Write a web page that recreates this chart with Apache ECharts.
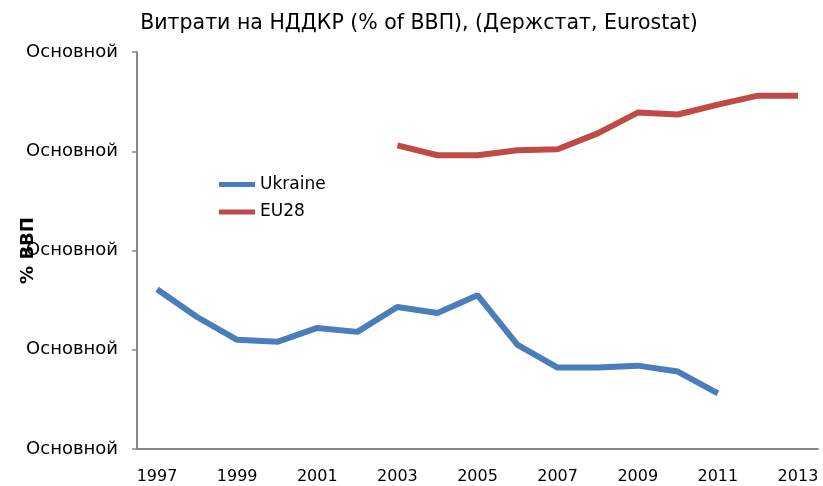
<!DOCTYPE html>
<html>
<head>
<meta charset="utf-8">
<script src="https://cdn.jsdelivr.net/npm/echarts@6/dist/echarts.min.js"></script>
<style>
  html, body { margin: 0; padding: 0; background: #fff; }
  #chart { width: 823px; height: 486px; }
</style>
</head>
<body>
<div id="chart"></div>
<script>
// years on the x axis
const years = ["1997", "1998", "1999", "2000", "2001", "2002", "2003", "2004", "2005",
  "2006", "2007", "2008", "2009", "2010", "2011", "2012", "2013"];
// values (axis units, labels are broken in the source)
const ukraine = [1.61, 1.33, 1.10, 1.08, 1.22, 1.18, 1.43, 1.37, 1.55, 1.05, 0.82, 0.82, 0.84, 0.78, 0.56, null, null];
const eu28 = [null, null, null, null, null, null, 3.06, 2.96, 2.96, 3.01, 3.02, 3.18, 3.39, 3.37, 3.47, 3.56, 3.56];
const yLabel = "Основной";

const chart = echarts.init(document.getElementById("chart"));

const option = {
  animation: false,
  title: {
    text: "Витрати на НДДКР (% of ВВП), (Держстат, Eurostat)",
    left: 414,
    textAlign: "center",
    top: 8,
    textStyle: { fontFamily: "DejaVu Sans", fontSize: 20.5, fontWeight: "normal", color: "#000" }
  },
  legend: {
    orient: "vertical",
    left: 214,
    top: 171,
    itemWidth: 36,
    itemHeight: 5,
    itemGap: 10.5,
    icon: "rect",
    textStyle: { fontFamily: "DejaVu Sans", fontSize: 17, color: "#000" },
    data: ["Ukraine", "EU28"]
  },
  grid: { left: 137, right: 5, top: 52, bottom: 37, outerBoundsMode: "none", containLabel: false },
  xAxis: {
    type: "category",
    data: years,
    boundaryGap: true,
    axisLine: { lineStyle: { color: "#888", width: 2 } },
    axisTick: { show: false },
    axisLabel: { interval: 1, margin: 20, fontFamily: "DejaVu Sans", fontSize: 16, color: "#000" }
  },
  yAxis: {
    type: "value",
    min: 0,
    max: 4,
    interval: 1,
    name: "% ВВП",
    nameLocation: "middle",
    nameGap: 100,
    nameMoveOverlap: false,
    nameTextStyle: { fontFamily: "DejaVu Sans", fontSize: 18, fontWeight: "bold", color: "#000" },
    axisLine: { show: true, lineStyle: { color: "#888", width: 2 } },
    axisTick: { show: true, length: 5, lineStyle: { color: "#888", width: 1.5 } },
    splitLine: { show: false },
    axisLabel: {
      margin: 19,
      fontFamily: "DejaVu Sans",
      fontSize: 18,
      color: "#000",
      formatter: () => yLabel
    }
  },
  series: [
    {
      name: "Ukraine",
      type: "line",
      data: ukraine,
      symbol: "none",
      lineStyle: { width: 6, color: "#4A7EBB" },
      itemStyle: { color: "#4A7EBB" }
    },
    {
      name: "EU28",
      type: "line",
      data: eu28,
      symbol: "none",
      lineStyle: { width: 6, color: "#BE4B48" },
      itemStyle: { color: "#BE4B48" }
    }
  ]
};

chart.setOption(option);
</script>
</body>
</html>
